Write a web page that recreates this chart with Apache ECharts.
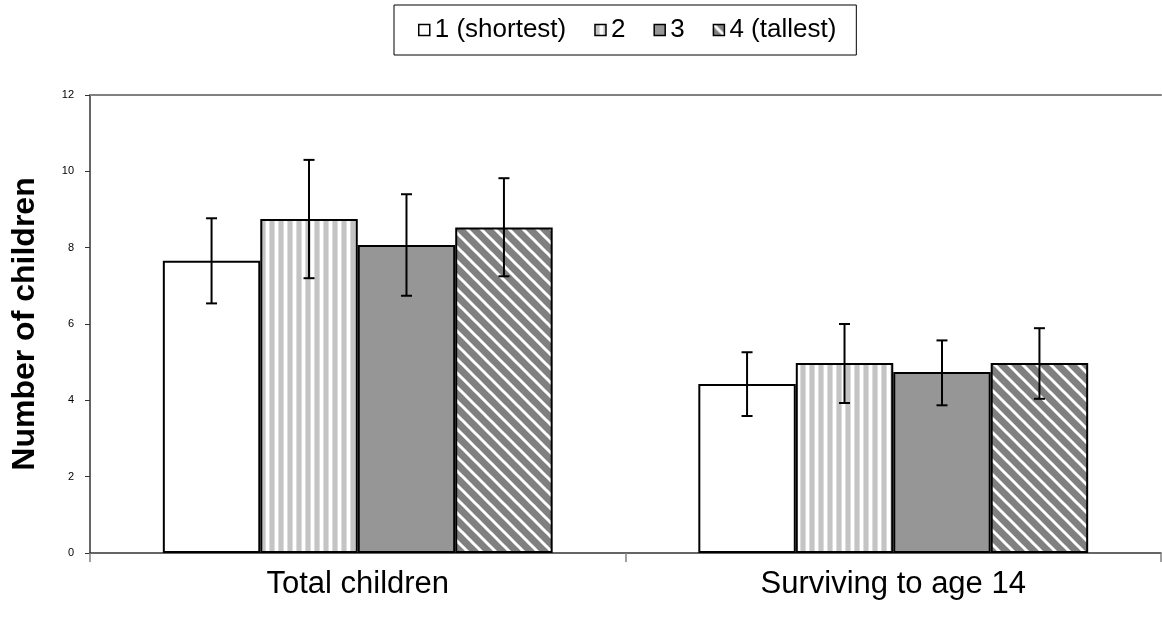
<!DOCTYPE html>
<html>
<head>
<meta charset="utf-8">
<script src="https://cdn.jsdelivr.net/npm/echarts@6/dist/echarts.min.js"></script>
<style>
html,body{margin:0;padding:0;background:#fff;}
#chart{width:1162px;height:625px;}
</style>
</head>
<body>
<div id="chart"></div>
<script>
var categories = ['Total children', 'Surviving to age 14'];
var seriesNames = ['1 (shortest)', '2', '3', '4 (tallest)'];
var means1 = [7.66, 4.43];
var means2 = [8.75, 4.98];
var means3 = [8.07, 4.74];
var means4 = [8.53, 4.98];
var errHigh1 = [8.77, 5.26];
var errHigh2 = [10.30, 6.00];
var errHigh3 = [9.40, 5.57];
var errHigh4 = [9.82, 5.89];
var errLow1 = [6.54, 3.59];
var errLow2 = [7.20, 3.93];
var errLow3 = [6.74, 3.87];
var errLow4 = [7.25, 4.04];
var yTicks = [0, 2, 4, 6, 8, 10, 12];

function stripePattern() {
  var c = document.createElement('canvas');
  c.width = 9; c.height = 9;
  var g = c.getContext('2d');
  g.fillStyle = '#ffffff'; g.fillRect(0, 0, 9, 9);
  g.fillStyle = '#c4c4c4'; g.fillRect(0, 0, 4, 9);
  g.fillStyle = '#dcdcdc'; g.fillRect(4, 0, 1, 9);
  g.fillRect(8, 0, 1, 9);
  return c;
}
function diagPattern() {
  var s = 14;
  var c = document.createElement('canvas');
  c.width = s; c.height = s;
  var g = c.getContext('2d');
  g.fillStyle = '#808080'; g.fillRect(0, 0, s, s);
  g.strokeStyle = '#ffffff'; g.lineWidth = 3;
  for (var k = -1; k <= 1; k++) {
    g.beginPath();
    g.moveTo(k * s - 2, -2);
    g.lineTo(k * s + s + 2, s + 2);
    g.stroke();
  }
  return c;
}

var fills = [
  '#ffffff',
  {image: stripePattern(), repeat: 'repeat'},
  '#969696',
  {image: diagPattern(), repeat: 'repeat'}
];
var means = [means1, means2, means3, means4];
var highs = [errHigh1, errHigh2, errHigh3, errHigh4];
var lows = [errLow1, errLow2, errLow3, errLow4];
var catGap = 0.272;

var series = [];
for (var i = 0; i < 4; i++) {
  series.push({
    name: seriesNames[i],
    type: 'bar',
    data: means[i],
    barGap: '0%',
    barCategoryGap: (catGap * 100) + '%',
    itemStyle: {color: fills[i], borderColor: '#000', borderWidth: 2},
    emphasis: {disabled: true},
    z: 2
  });
}
var errData = [];
for (var i = 0; i < 4; i++) {
  for (var j = 0; j < categories.length; j++) {
    errData.push([j, highs[i][j], lows[i][j], i]);
  }
}
series.push({
  type: 'custom',
  name: 'err',
  data: errData,
  z: 5,
  renderItem: function (params, api) {
    var cat = api.value(0);
    var hi = api.value(1), lo = api.value(2), si = api.value(3);
    var band = api.size([1, 0])[0];
    var bw = band * (1 - catGap) / 4;
    var cx = api.coord([cat, 0])[0] + (si - 1.5) * bw;
    var yh = api.coord([cat, hi])[1];
    var yl = api.coord([cat, lo])[1];
    var cap = 5.5;
    var st = {stroke: '#000', lineWidth: 2};
    return {
      type: 'group',
      children: [
        {type: 'line', shape: {x1: cx, y1: yh, x2: cx, y2: yl}, style: st},
        {type: 'line', shape: {x1: cx - cap, y1: yh, x2: cx + cap, y2: yh}, style: st},
        {type: 'line', shape: {x1: cx - cap, y1: yl, x2: cx + cap, y2: yl}, style: st}
      ]
    };
  }
});

var chart = echarts.init(document.getElementById('chart'), null, {renderer: 'canvas'});
chart.setOption({
  animation: false,
  backgroundColor: '#fff',
  textStyle: {fontFamily: 'Liberation Sans, Arial, sans-serif'},
  legend: {
    data: seriesNames,
    icon: 'rect',
    left: 394,
    top: 5,
    padding: [12, 20, 12, 24],
    borderColor: '#000',
    borderWidth: 1,
    itemWidth: 11,
    itemHeight: 11,
    itemGap: 28,
    itemStyle: {borderColor: '#000', borderWidth: 1.5},
    textStyle: {fontSize: 26, color: '#000', fontFamily: 'Liberation Sans, Arial, sans-serif'},
    selectedMode: false
  },
  grid: {left: 90, right: 1, top: 95, bottom: 72, containLabel: false},
  xAxis: [{
    type: 'category',
    data: categories,
    axisLine: {lineStyle: {color: '#333', width: 1.5}},
    axisTick: {show: true, length: 9, lineStyle: {color: '#808080', width: 1.5}},
    axisLabel: {fontSize: 31, color: '#000', margin: 16},
    splitLine: {show: false}
  }, {
    type: 'category',
    data: categories,
    position: 'top',
    axisLine: {show: true, lineStyle: {color: '#808080', width: 2}},
    axisTick: {show: false},
    axisLabel: {show: false}
  }],
  yAxis: {
    type: 'value',
    min: 0,
    max: 12,
    interval: 2,
    name: 'Number of children',
    nameLocation: 'middle',
    nameGap: 49,
    nameTextStyle: {fontSize: 32, fontWeight: 'bold', color: '#000'},
    axisLine: {show: true, lineStyle: {color: '#333', width: 1.5}},
    axisTick: {show: true, length: 5, lineStyle: {color: '#333'}},
    axisLabel: {fontSize: 11, color: '#000', margin: 16},
    splitLine: {show: false}
  },
  series: series
});
</script>
</body>
</html>
